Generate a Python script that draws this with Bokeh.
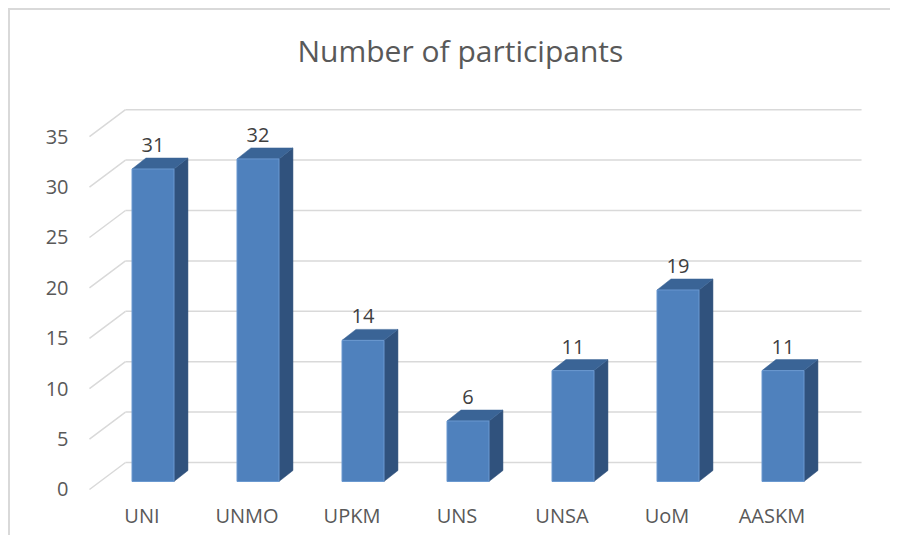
from bokeh.plotting import figure
from bokeh.models import Range1d, LinearAxis, FixedTicker
from bokeh.embed import file_html
from bokeh.resources import INLINE

# ---- data ----
categories = ["UNI", "UNMO", "UPKM", "UNS", "UNSA", "UoM", "AASKM"]
participants = [31, 32, 14, 6, 11, 19, 11]
y_ticks = [0, 5, 10, 15, 20, 25, 30, 35]
title_text = "Number of participants"

# ---- 3D look constants (in data units) ----
BACK_DY = 2.679      # back wall is raised relative to front plane
GRID_FRONT_X = -0.605
GRID_BACK_X0 = -0.262
GRID_BACK_X1 = 6.748
BAR_BASE = 0.794
BAR_HALF = 0.2
DEPTH_DX = 0.133
DEPTH_DY = 1.091
LABEL_SHIFT = 0.105
VALUE_LABEL_DY = 1.29

FONT = "Open Sans"
GRID_COLOR = "#d9d9d9"
TEXT_COLOR = "#595959"

x0, x1 = -0.7381, 6.8333
p = figure(width=882, height=527, output_backend="svg", toolbar_location=None,
           x_range=Range1d(x0, x1), y_range=Range1d(-1.389, 40.575),
           x_axis_location=None, y_axis_location="left",
           min_border_left=65, min_border_right=22, min_border_bottom=34,
           min_border_top=70, title=title_text)
p.styles = {"margin-left": "8px", "margin-top": "8px",
            "border-left": "2px solid #d9d9d9", "border-top": "2px solid #d9d9d9"}
p.outline_line_color = None
p.xgrid.visible = False
p.ygrid.visible = False
p.background_fill_color = "white"
p.border_fill_color = "white"

p.title.align = "left"
p.title.offset = 222
p.title.standoff = 20
p.title.text_font = FONT
p.title.text_font_size = "30px"
p.title.text_font_style = "normal"
p.title.text_color = TEXT_COLOR

# y axis (front plane)
ya = p.yaxis[0]
ya.ticker = FixedTicker(ticks=y_ticks)
ya.axis_line_color = None
ya.major_tick_line_color = None
ya.minor_tick_line_color = None
ya.major_tick_out = 0
ya.major_tick_in = 0
ya.major_label_standoff = 7
ya.major_label_text_font = FONT
ya.major_label_text_font_size = "20px"
ya.major_label_text_color = TEXT_COLOR

# category axis (projected labels)
p.extra_x_ranges = {"lab": Range1d(x0 + LABEL_SHIFT, x1 + LABEL_SHIFT)}
xa = LinearAxis(x_range_name="lab")
xa.ticker = FixedTicker(ticks=list(range(len(categories))))
xa.major_label_overrides = {i: c for i, c in enumerate(categories)}
xa.axis_line_color = None
xa.major_tick_line_color = None
xa.minor_tick_line_color = None
xa.major_tick_out = 0
xa.major_tick_in = 0
xa.major_label_standoff = -2
xa.major_label_text_font = FONT
xa.major_label_text_font_size = "20px"
xa.major_label_text_color = TEXT_COLOR
p.add_layout(xa, "below")

# gridlines: diagonal floor-edge segments + back wall lines
n = len(y_ticks)
p.segment(x0=[GRID_FRONT_X] * n, y0=y_ticks,
          x1=[GRID_BACK_X0] * n, y1=[t + BACK_DY for t in y_ticks],
          line_color=GRID_COLOR, line_width=1.5)
p.segment(x0=[GRID_BACK_X0] * n, y0=[t + BACK_DY for t in y_ticks],
          x1=[GRID_BACK_X1] * n, y1=[t + BACK_DY for t in y_ticks],
          line_color=GRID_COLOR, line_width=1.5)

# bars
idx = list(range(len(categories)))
side_xs, side_ys, top_xs, top_ys = [], [], [], []
for i, v in zip(idx, participants):
    r = i + BAR_HALF
    l = i - BAR_HALF
    top = BAR_BASE + v
    side_xs.append([r, r + DEPTH_DX, r + DEPTH_DX, r])
    side_ys.append([BAR_BASE, BAR_BASE + DEPTH_DY, top + DEPTH_DY, top])
    top_xs.append([l, r, r + DEPTH_DX, l + DEPTH_DX])
    top_ys.append([top, top, top + DEPTH_DY, top + DEPTH_DY])

p.patches(side_xs, side_ys, fill_color="#30527d", line_color="#30527d", line_width=0.5)
p.patches(top_xs, top_ys, fill_color="#3a6496", line_color="#3a6496", line_width=0.5)
p.quad(left=[i - BAR_HALF for i in idx], right=[i + BAR_HALF for i in idx],
       bottom=[BAR_BASE] * len(idx), top=[BAR_BASE + v for v in participants],
       fill_color="#4f81bd", line_color="#6a98d0", line_width=1)

# value labels
p.text(x=idx, y=[BAR_BASE + DEPTH_DY + VALUE_LABEL_DY + v for v in participants],
       text=[str(v) for v in participants],
       text_align="center", text_baseline="middle",
       text_font={"value": FONT}, text_font_size={"value": "20px"},
       text_color="#404040")

open("out.html", "w").write(file_html(p, INLINE))
